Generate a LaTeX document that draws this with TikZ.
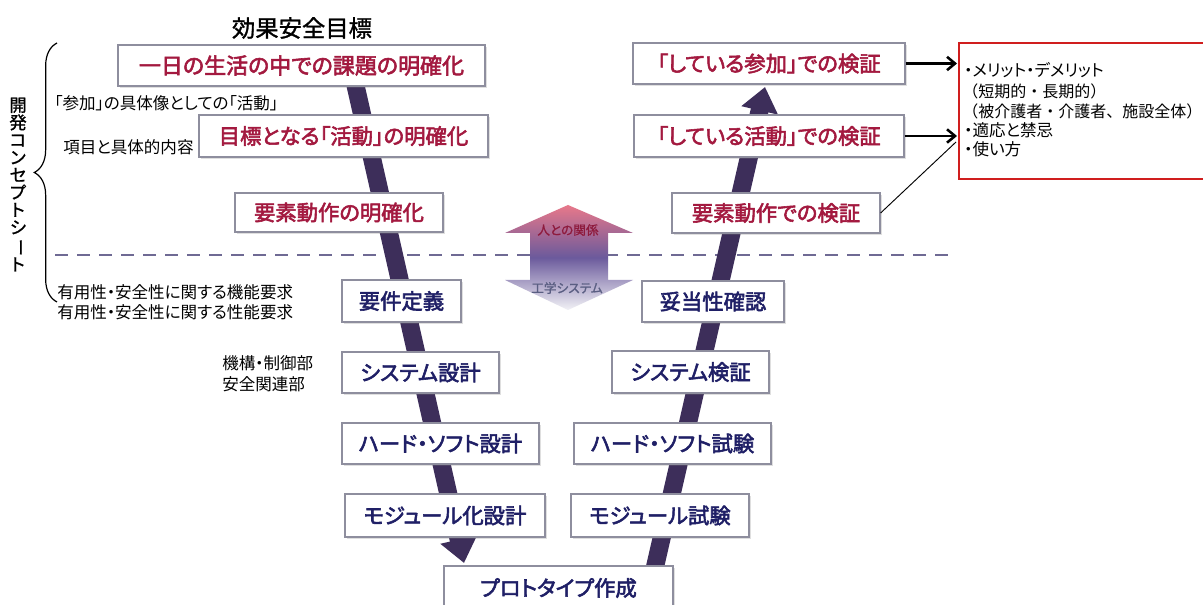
\documentclass[tikz,border=0pt]{standalone}
\usepackage{fontspec}
\usepackage{graphicx}
\setmainfont{Noto Sans CJK JP}[RawFeature=+palt]
\newfontfamily\jpmed{Noto Sans CJK JP}[RawFeature=+palt, FakeBold=1.2]
\newfontfamily\jpbold{Noto Sans CJK JP}[RawFeature=+palt, FakeBold=2.6]
\newfontfamily\jpfull{Noto Sans CJK JP}
\usetikzlibrary{arrows.meta,shadows,decorations.pathreplacing}
\definecolor{crim}{HTML}{A3193F}
\definecolor{navyc}{HTML}{1F1F66}
\definecolor{bandc}{HTML}{3D2E5A}
\definecolor{bxline}{HTML}{8E8E9E}
\definecolor{dashc}{HTML}{6F6A94}
\definecolor{redb}{HTML}{D01E1E}
\definecolor{atop}{HTML}{E8788A}
\definecolor{amid}{HTML}{6B5A9C}
\definecolor{abot}{HTML}{F2F2F6}
\definecolor{lblred}{HTML}{8E1A3C}
\definecolor{lblblue}{HTML}{5A5E82}
\begin{document}
\begin{tikzpicture}[x=0.75pt,y=-0.75pt,
  bx/.style n args={2}{minimum width={#1*0.75pt}, minimum height={#2*0.75pt}},
  box/.style={draw=bxline, line width=0.9pt, fill=white, inner sep=0pt,
    drop shadow={shadow xshift=1.2pt, shadow yshift=-1.2pt, opacity=0.25},
    font=\jpbold\fontsize{16}{18}\selectfont},
  pinkbox/.style={box, text=crim},
  navybox/.style={box, text=navyc},
  small/.style={inner sep=0pt, font=\fontsize{12.4}{14}\selectfont},
  band/.style={draw=bandc, line width=13.5pt, -{Triangle[width=27pt,length=18pt]}},
  blkarrow/.style={line width=1.9pt, -{Straight Barb[length=6pt,width=10pt]}},
]
\useasboundingbox (0,0) rectangle (1203,605);
\fill[white] (0,0) rectangle (1203,605);

% dashed separator
\draw[dashc, line width=1.6pt, dash pattern=on 9.75pt off 6.75pt] (55,255) coordinate (d1) -- (955,255) coordinate (d2);

% bands
\coordinate (ls) at (352,70);
\coordinate (le) at (464,563);
\coordinate (rs) at (652,580);
\coordinate (re) at (765,87);
\draw[band] (ls) -- (le);
\draw[band] (rs) -- (re);

% central double arrow
\shade[top color=atop, bottom color=abot, middle color=amid]
  (568,205) -- (633,233) -- (608,233) -- (608,280) -- (633,280) -- (568,310)
  -- (505,280) -- (530,280) -- (530,233) -- (505,233) -- cycle;
\node[inner sep=0pt, text=lblred, font=\jpmed\fontsize{9.5}{10}\selectfont] (hum) at (568,230) {人との関係};
\node[inner sep=0pt, text=lblblue, font=\jpmed\fontsize{9.5}{10}\selectfont] (eng) at (567,288) {工学システム};

% title
\node[inner sep=0pt, font=\jpmed\fontsize{17.5}{20}\selectfont] (title) at (302,28) {効果安全目標};

% left boxes
\node[pinkbox, bx={367}{41}, font=\jpbold\fontsize{16.5}{18}\selectfont] (L1) at (301.5,65.5) {一日の生活の中での課題の明確化};
\node[pinkbox, bx={289}{42}] (L2) at (343.5,136) {目標となる「活動」の明確化};
\node[pinkbox, bx={208}{39}] (L3) at (339,212.5) {要素動作の明確化};
\node[navybox, bx={119}{42}] (L4) at (401.5,301) {要件定義};
\node[navybox, bx={157}{41}] (L5) at (420.5,372.5) {システム設計};
\node[navybox, bx={197}{41}] (L6) at (440.5,443.5) {ハード・ソフト設計};
\node[navybox, bx={200}{43}] (L7) at (445,515.5) {モジュール化設計};
\node[navybox, bx={229}{44}] (P) at (558.5,588) {プロトタイプ作成};

% right boxes
\node[navybox, bx={178}{43}] (R7) at (660,515.5) {モジュール試験};
\node[navybox, bx={197}{41}] (R6) at (672.5,443.5) {ハード・ソフト試験};
\node[navybox, bx={157}{42}] (R5) at (690.5,372) {システム検証};
\node[navybox, bx={142}{41}] (R4) at (713,301.5) {妥当性確認};
\node[pinkbox, bx={208}{40}] (R3) at (776,213) {要素動作での検証};
\node[pinkbox, bx={270}{42}] (R2) at (769,136) {「している活動」での検証};
\node[pinkbox, bx={272}{41}] (R1) at (769,63.5) {「している参加」での検証};

% red box
\node[draw=redb, line width=1.6pt, fill=white, anchor=north west, inner sep=0pt,
  minimum width={262*0.75pt}, minimum height={136*0.75pt}] (RB) at (958,42) {};
\node[small, anchor=west] (t1) at (964,70) {・メリット・デメリット};
\node[small, anchor=west, font=\jpfull\fontsize{12}{14}\selectfont] (t2) at (962,91) {（短期的・長期的）};
\node[small, anchor=west, font=\jpfull\fontsize{12}{14}\selectfont] (t3) at (962,111) {（被介護者・介護者、施設全体）};
\node[small, anchor=west] (t4) at (964,130) {・適応と禁忌};
\node[small, anchor=west] (t5) at (964,149) {・使い方};

% connectors to red box
\coordinate (a1) at (957,63.5);
\coordinate (a2) at (957,136);
\coordinate (a3) at (956,142);
\draw[blkarrow] (R1.east) -- (a1);
\draw[blkarrow] (R2.east) -- (a2);
\draw[line width=0.7pt] (R3.east) -- (a3);

% left annotations
\node[small, anchor=west] (n1) at (54,103) {「参加」の具体像としての「活動」};
\node[small, anchor=west] (n2) at (63,147) {項目と具体的内容};
\node[small, anchor=west] (n3) at (57,292) {有用性・安全性に関する機能要求};
\node[small, anchor=west] (n4) at (57,312) {有用性・安全性に関する性能要求};
\node[small, anchor=west] (n5) at (222,363) {機構・制御部};
\node[small, anchor=west] (n6) at (222,384) {安全関連部};

% brace
\coordinate (br1) at (57,302);
\coordinate (br2) at (57,43);
\draw[line width=0.9pt, decorate, decoration={brace, amplitude=17pt}] (br1) -- (br2);

% vertical text
\node[inner sep=0pt, align=center, font=\jpmed\fontsize{13}{13.1}\selectfont] (vt) at (18,184.5)
  {開\\発\\コ\\ン\\セ\\プ\\ト\\シ\\\rotatebox[origin=c]{-90}{ー}\\ト};
\end{tikzpicture}
\end{document}
